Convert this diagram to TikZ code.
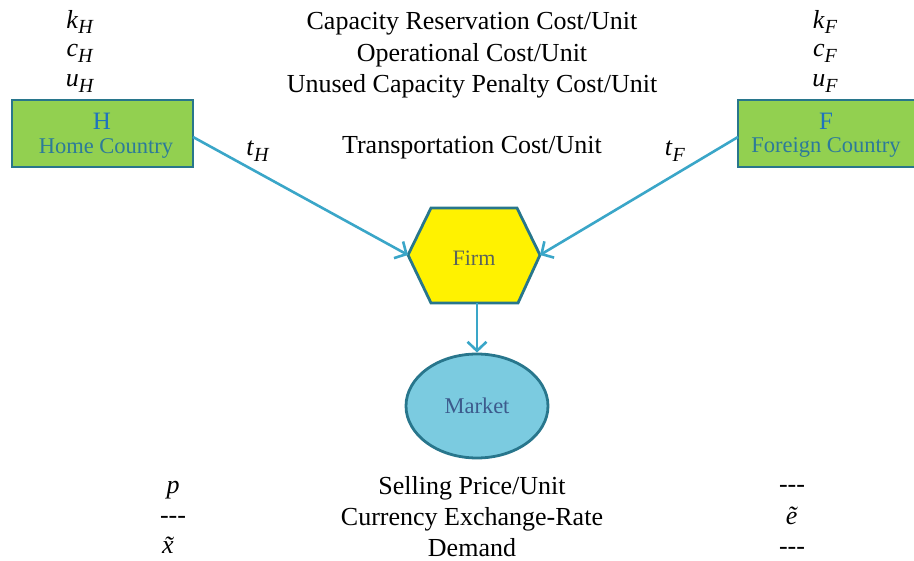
\documentclass[tikz,border=0pt]{standalone}
\usepackage{fontspec}
\setmainfont{Liberation Serif}
\usetikzlibrary{arrows.meta,shapes.geometric}
\definecolor{boxgreen}{RGB}{146,208,80}
\definecolor{edgeteal}{RGB}{40,118,140}
\definecolor{arrowblue}{RGB}{58,166,200}
\definecolor{hblue}{RGB}{30,115,190}
\definecolor{hteal}{RGB}{44,122,154}
\definecolor{firmtext}{RGB}{90,100,90}
\definecolor{mktfill}{RGB}{123,203,224}
\definecolor{mkttext}{RGB}{60,90,140}
\newcommand\vr[2]{\textit{#1}\raisebox{-0.5ex}{\fontsize{20}{22}\selectfont\textit{#2}}}
\begin{document}
\begin{tikzpicture}[x=1pt,y=-1pt,
  lbl/.style={font=\fontsize{26}{29}\selectfont, inner sep=0pt},
  ctry/.style={draw=edgeteal, line width=2.8pt, fill=boxgreen, minimum width=181pt, minimum height=67pt, inner sep=0pt},
  conn/.style={draw=arrowblue, line width=2.6pt, -{Straight Barb[length=9pt,width=19pt]}}]
\useasboundingbox (0,0) rectangle (914,561);
% country boxes
\node[ctry] (home) at (102.5,133.5) {};
\node[font=\fontsize{25}{28}\selectfont, text=hblue] (homeL) at (102,121) {H};
\node[font=\fontsize{22.5}{25}\selectfont, text=hteal] (homeN) at (106,148) {Home Country};
\node[ctry, minimum width=182pt] (foreign) at (829,133.5) {};
\node[font=\fontsize{25}{28}\selectfont, text=hblue] (forL) at (826,121) {F};
\node[font=\fontsize{22.5}{25}\selectfont, text=hteal] (forN) at (826,147) {Foreign Country};
% firm hexagon
\draw[draw=edgeteal, line width=2.8pt, fill=yellow, line join=miter]
  (431,208) -- (517,208) -- (540,255) -- (518,303) -- (431,303) -- (408,255) -- cycle;
\node[font=\fontsize{22}{25}\selectfont, text=firmtext] (firm) at (474,258) {Firm};
\coordinate (firmL) at (408,255);
\coordinate (firmR) at (540,255);
\coordinate (firmB) at (477,303);
% market
\node[ellipse, draw=edgeteal, line width=2.8pt, fill=mktfill, minimum width=142pt, minimum height=104pt, inner sep=0pt, font=\fontsize{22.5}{25}\selectfont, text=mkttext] (market) at (477,406) {Market};
% connectors
\coordinate (homeR) at (193,137);
\coordinate (forLft) at (738,137);
\draw[conn] (homeR) -- (firmL);
\draw[conn] (forLft) -- (firmR);
\draw[conn] (firmB) -- (market.north);
% top labels
\node[lbl] (kH) at (80,22) {\vr{k}{H}};
\node[lbl] (cH) at (80,53) {\vr{c}{H}};
\node[lbl] (uH) at (80,84) {\vr{u}{H}};
\node[lbl] (t1) at (472,24) {Capacity Reservation Cost/Unit};
\node[lbl] (t2) at (472,55) {Operational Cost/Unit};
\node[lbl] (t3) at (472,86) {Unused Capacity Penalty Cost/Unit};
\node[lbl] (kF) at (825,22) {\vr{k}{F}};
\node[lbl] (cF) at (825,53) {\vr{c}{F}};
\node[lbl] (uF) at (825,84) {\vr{u}{F}};
\node[lbl] (tH) at (258,151) {\vr{t}{H}};
\node[lbl] (t4) at (472,148) {Transportation Cost/Unit};
\node[lbl] (tF) at (675,151) {\vr{t}{F}};
% bottom labels
\node[lbl] (p) at (173,490) {\textit{p}};
\node[lbl] (d1) at (173,520) {-{}-{}-};
\node[lbl] (x) at (173,545) {\textit{x̃}};
\node[lbl] (b1) at (472,488) {Selling Price/Unit};
\node[lbl] (b2) at (472,519) {Currency Exchange-Rate};
\node[lbl] (b3) at (472,548) {Demand};
\node[lbl] (d2) at (792,489) {-{}-{}-};
\node[lbl] (e) at (792,516) {\textit{ẽ}};
\node[lbl] (d3) at (792,551) {-{}-{}-};
\end{tikzpicture}
\end{document}
